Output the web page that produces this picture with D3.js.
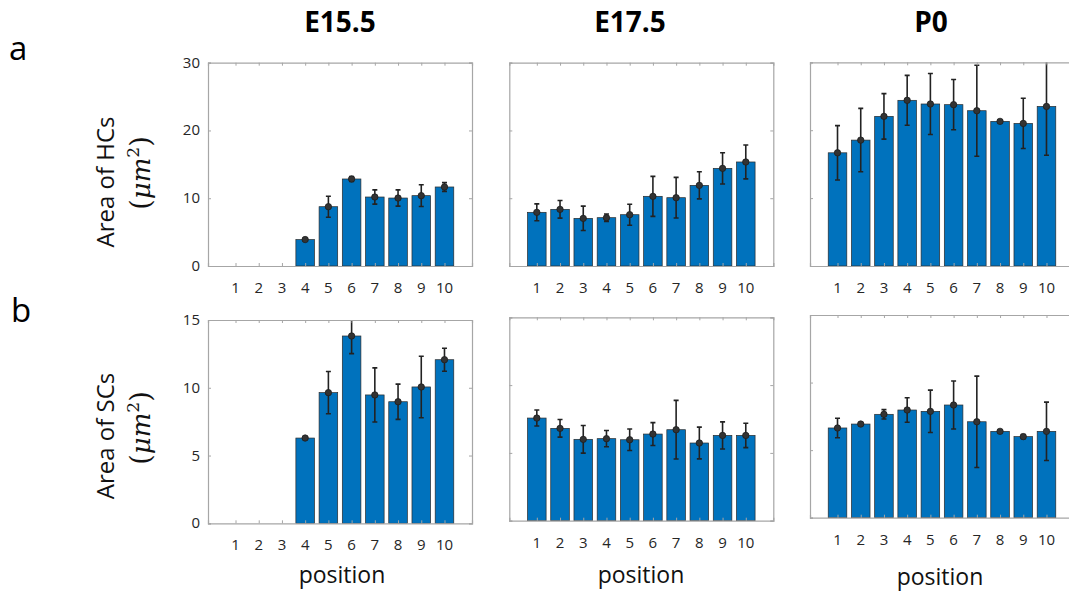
<!DOCTYPE html>
<html>
<head>
<meta charset="utf-8">
<script src="https://cdn.jsdelivr.net/npm/d3@7"></script>
<style>
  html, body { margin: 0; padding: 0; background: #fff; }
  svg { display: block; }
  text { font-family: "Open Sans", "DejaVu Sans", sans-serif; }
</style>
</head>
<body>
<svg id="fig" width="1069" height="595"></svg>
<script>
// Bar positions along the cochlear axis
const positions = [1, 2, 3, 4, 5, 6, 7, 8, 9, 10];
const stages = ["E15.5", "E17.5", "P0"];

// Mean area of hair cells (µm²) and error (±) per position
const hcE155    = [null, null, null, 3.9, 8.75, 12.84, 10.18, 10.03, 10.38, 11.66];
const hcE155Err = [null, null, null, 0.12, 1.55, 0.35, 1.05, 1.2, 1.6, 0.65];
const hcE175    = [7.92, 8.36, 7.03, 7.13, 7.57, 10.28, 10.08, 11.9, 14.41, 15.35];
const hcE175Err = [1.25, 1.3, 1.8, 0.55, 1.55, 2.95, 3.0, 2.0, 2.3, 2.5];
const hcP0      = [16.67, 18.54, 22.04, 24.4, 23.86, 23.76, 22.87, 21.3, 21.0, 23.5];
const hcP0Err   = [4.0, 4.67, 3.35, 3.67, 4.5, 3.7, 6.7, 0.2, 3.7, 7.2];

// Mean area of supporting cells (µm²) and error (±) per position
const scE155    = [null, null, null, 6.29, 9.64, 13.82, 9.47, 8.97, 10.06, 12.07];
const scE155Err = [null, null, null, 0.06, 1.56, 1.3, 2.0, 1.3, 2.27, 0.85];
const scE175    = [7.57, 6.81, 6.0, 6.05, 5.97, 6.39, 6.71, 5.73, 6.29, 6.29];
const scE175Err = [0.59, 0.65, 1.02, 0.6, 0.79, 0.84, 2.16, 1.17, 1.0, 0.9];
const scP0      = [6.64, 6.93, 7.65, 7.97, 7.87, 8.34, 7.1, 6.39, 6.0, 6.39];
const scP0Err   = [0.72, 0.1, 0.35, 0.91, 1.57, 1.78, 3.38, 0.1, 0.15, 2.16];

// Axis ranges and tick values
const hcYMax = 30, hcTicks = [0, 10, 20, 30];
const scYMax = 15, scTicks = [0, 5, 10, 15];

const svg = d3.select("#fig");
const W = 264;
const barColor = "#0072BD";
const inkColor = "#262626";

const panels = [
  { mean: hcE155, err: hcE155Err, yMax: hcYMax, ticks: hcTicks, left: 208,   top: 62.7,  bottom: 266,   labels: true },
  { mean: hcE175, err: hcE175Err, yMax: hcYMax, ticks: hcTicks, left: 509.3, top: 62.7,  bottom: 266,   labels: false },
  { mean: hcP0,   err: hcP0Err,   yMax: hcYMax, ticks: hcTicks, left: 810,   top: 62.3,  bottom: 266,   labels: false },
  { mean: scE155, err: scE155Err, yMax: scYMax, ticks: scTicks, left: 208,   top: 320,   bottom: 523.3, labels: true },
  { mean: scE175, err: scE175Err, yMax: scYMax, ticks: scTicks, left: 509.3, top: 317.3, bottom: 520.7, labels: false },
  { mean: scP0,   err: scP0Err,   yMax: scYMax, ticks: scTicks, left: 810,   top: 315,   bottom: 517.7, labels: false }
];

panels.forEach((p, i) => {
  const x = d3.scaleLinear().domain([-0.185, 11.185]).range([p.left, p.left + W]);
  const y = d3.scaleLinear().domain([0, p.yMax]).range([p.bottom, p.top]);
  const bw = (x(1) - x(0)) * 0.8;
  const g = svg.append("g");

  const clipId = "clip" + i;
  svg.append("clipPath").attr("id", clipId)
    .append("rect")
    .attr("x", p.left).attr("y", p.top)
    .attr("width", W).attr("height", p.bottom - p.top);

  const rows = positions.map((pos, k) => ({ pos, v: p.mean[k], e: p.err[k] }))
    .filter(d => d.v != null);

  // bars
  g.append("g").selectAll("rect").data(rows).join("rect")
    .attr("x", d => x(d.pos) - bw / 2)
    .attr("y", d => y(d.v))
    .attr("width", bw)
    .attr("height", d => y(0) - y(d.v))
    .attr("fill", barColor)
    .attr("stroke", "#2b2b2b")
    .attr("stroke-width", 0.7);

  // error bars, clipped to the axes box
  const eg = g.append("g").attr("clip-path", `url(#${clipId})`);
  eg.selectAll("line.stem").data(rows).join("line")
    .attr("class", "stem")
    .attr("x1", d => x(d.pos)).attr("x2", d => x(d.pos))
    .attr("y1", d => y(d.v - d.e)).attr("y2", d => y(d.v + d.e))
    .attr("stroke", "#222").attr("stroke-width", 1.6);
  ["lo", "hi"].forEach(side => {
    eg.selectAll("line.cap" + side).data(rows).join("line")
      .attr("class", "cap" + side)
      .attr("x1", d => x(d.pos) - 2.5).attr("x2", d => x(d.pos) + 2.5)
      .attr("y1", d => y(side === "lo" ? d.v - d.e : d.v + d.e))
      .attr("y2", d => y(side === "lo" ? d.v - d.e : d.v + d.e))
      .attr("stroke", "#222").attr("stroke-width", 1.6);
  });
  eg.selectAll("circle").data(rows).join("circle")
    .attr("cx", d => x(d.pos)).attr("cy", d => y(d.v))
    .attr("r", 3.2)
    .attr("fill", "#333").attr("stroke", "#1e1e1e").attr("stroke-width", 0.8);

  // axes box with inward ticks on all four sides
  const boxColor = "#a6a6a6";
  const tickLen = 3;
  const axBottom = d3.axisBottom(x).tickValues(positions).tickSize(-tickLen).tickFormat("");
  const axTop = d3.axisTop(x).tickValues(positions).tickSize(-tickLen).tickFormat("");
  const axLeft = d3.axisLeft(y).tickValues(p.ticks).tickSize(-tickLen).tickFormat("");
  const axRight = d3.axisRight(y).tickValues(p.ticks).tickSize(-tickLen).tickFormat("");
  const styleAxis = sel => {
    sel.selectAll("path, line").attr("stroke", boxColor).attr("stroke-width", 1);
    sel.select(".domain").attr("stroke-width", 1.2);
  };
  g.append("g").attr("transform", `translate(0,${p.bottom})`).call(axBottom).call(styleAxis);
  g.append("g").attr("transform", `translate(0,${p.top})`).call(axTop).call(styleAxis);
  g.append("g").attr("transform", `translate(${p.left},0)`).call(axLeft).call(styleAxis);
  g.append("g").attr("transform", `translate(${p.left + W},0)`).call(axRight).call(styleAxis);

  // x tick labels
  g.append("g").selectAll("text").data(positions).join("text")
    .attr("x", d => x(d))
    .attr("y", p.bottom + 27)
    .attr("text-anchor", "middle")
    .attr("font-size", 15)
    .attr("fill", inkColor)
    .text(d => d);

  // y tick labels on the left-hand panels only
  if (p.labels) {
    g.append("g").selectAll("text").data(p.ticks).join("text")
      .attr("x", p.left - 8)
      .attr("y", d => y(d) + 5)
      .attr("text-anchor", "end")
      .attr("font-size", 15)
      .attr("fill", inkColor)
      .text(d => d);
  }
});

// column titles
const titleX = [340, 630, 931];
stages.forEach((s, i) => {
  svg.append("text")
    .attr("x", titleX[i]).attr("y", 32)
    .attr("text-anchor", "middle")
    .attr("font-size", 28)
    .attr("font-weight", 700)
    .attr("fill", "#000")
    .text(s);
});

// x axis titles
[342, 641, 940].forEach((cx, i) => {
  svg.append("text")
    .attr("x", cx).attr("y", i === 2 ? 585 : 583)
    .attr("text-anchor", "middle")
    .attr("font-size", 23)
    .attr("fill", "#111")
    .text("position");
});

// y axis titles, two lines each
function yTitle(label, baseX, cy1, cy2) {
  svg.append("text")
    .attr("transform", `translate(${baseX},${cy1}) rotate(-90)`)
    .attr("text-anchor", "middle")
    .attr("font-size", 24)
    .attr("fill", "#111")
    .text(label);
  const t = svg.append("text")
    .attr("transform", `translate(${baseX + 36},${cy2}) rotate(-90)`)
    .attr("text-anchor", "middle")
    .attr("font-size", 27)
    .attr("fill", "#111");
  t.append("tspan").attr("font-family", "DejaVu Serif").text("(");
  t.append("tspan").attr("font-family", "DejaVu Serif").attr("font-style", "italic").attr("font-size", 26).text("μm");
  t.append("tspan").attr("font-family", "DejaVu Serif").attr("font-size", 17).attr("dy", -11).text("2");
  t.append("tspan").attr("font-family", "DejaVu Serif").attr("dy", 11).text(")");
}
yTitle("Area of HCs", 114, 182, 173);
yTitle("Area of SCs", 114, 436, 428);

// panel letters
svg.append("text").attr("x", 9).attr("y", 60).attr("font-size", 33).attr("fill", "#000").text("a");
svg.append("text").attr("x", 11).attr("y", 322).attr("font-size", 33).attr("fill", "#000").text("b");
</script>
</body>
</html>
